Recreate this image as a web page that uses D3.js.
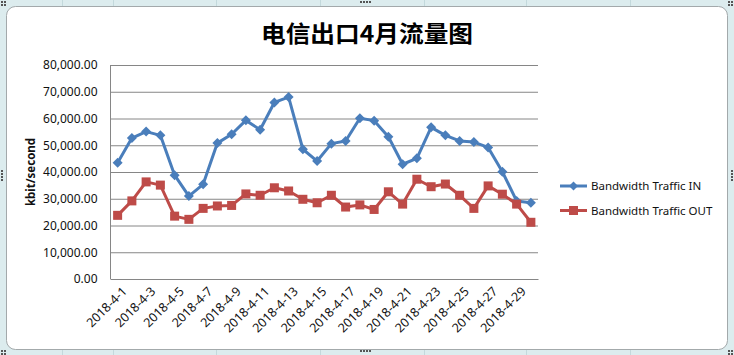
<!DOCTYPE html>
<html><head><meta charset="utf-8">
<script src="https://cdn.jsdelivr.net/npm/d3@7"></script>
<style>body{margin:0;background:#fff}svg{display:block}</style>
</head><body>
<svg id="c" width="734" height="355"></svg>
<script>
const title = "电信出口4月流量图";
const yTitle = "kbit/second";
const categories = Array.from({length:30},(_,i)=>"2018-4-"+(i+1));
const seriesNames = ["Bandwidth Traffic IN","Bandwidth Traffic OUT"];
const trafficIn = [43500,52700,55100,53700,38800,31000,35400,50800,54100,59300,55800,66000,68000,48500,44100,50600,51600,60100,59200,53200,42900,45100,56700,53700,51600,51200,49200,40100,29200,28500];
const trafficOut = [23800,29200,36300,35100,23500,22300,26400,27300,27500,31800,31300,34100,32900,29800,28500,31300,26900,27700,26000,32600,28000,37300,34500,35500,31300,26400,34800,31700,28000,21200];
const yTicks = [0,10000,20000,30000,40000,50000,60000,70000,80000];
const colors = ["#4a7ebb","#be4b48"];

(function(){
const svg = d3.select("#c");
const W=734,H=355;
svg.append("rect").attr("width",W).attr("height",H).attr("fill","#dcecee");
[62,113,216,320,424,526,630].forEach(xx=>{
  svg.append("line").attr("x1",xx+0.5).attr("x2",xx+0.5).attr("y1",0).attr("y2",6).attr("stroke","#c3d9dc");
  svg.append("line").attr("x1",xx+0.5).attr("x2",xx+0.5).attr("y1",349).attr("y2",355).attr("stroke","#c3d9dc");
});
svg.append("rect").attr("x",6.5).attr("y",6.5).attr("width",721).attr("height",343).attr("rx",9)
  .attr("fill","#fff").attr("stroke","#a3a9ab");
const dots=(px,py,n,vert)=>{for(let i=0;i<n;i++){svg.append("rect").attr("x",vert?px:px+i*3).attr("y",vert?py+i*3:py).attr("width",2).attr("height",2).attr("fill","#555");}};
dots(360,1,4,false);dots(360,350,4,false);dots(1,170,4,true);dots(731,170,4,true);
[[1,1],[728,1],[1,350],[728,350]].forEach(([a,b])=>{dots(a,b,2,false);dots(a,b+3,2,false);});

const pLeft=110.5,pRight=538,pTop=65,pBottom=279;
const x = d3.scaleBand().domain(categories).range([pLeft,pRight]);
const y = d3.scaleLinear().domain([0,80000]).range([pBottom,pTop]);
const font="'Noto Sans', 'Open Sans', sans-serif";

svg.append("text").attr("x",367).attr("y",42).attr("text-anchor","middle")
  .attr("font-family","'Noto Sans CJK SC', sans-serif").attr("font-weight","bold").attr("font-size",23)
  .attr("textLength",212).attr("lengthAdjust","spacingAndGlyphs").text(title);

const yAxis = d3.axisLeft(y).tickValues(yTicks).tickSize(-(pRight-pLeft)).tickPadding(13)
  .tickFormat(d3.format(",.2f"));
const gy = svg.append("g").attr("transform",`translate(${pLeft},0)`).call(yAxis);
gy.select(".domain").remove();
gy.selectAll(".tick line").attr("stroke","#868686");
gy.selectAll(".tick text").attr("font-family",font).attr("font-size",12).attr("fill","#111");
svg.append("line").attr("x1",pLeft).attr("x2",pLeft).attr("y1",pTop).attr("y2",pBottom).attr("stroke","#868686");

const xAxis = d3.axisBottom(x).tickSize(0).tickValues(categories.filter((d,i)=>i%2===0));
const gx = svg.append("g").attr("transform",`translate(0,${pBottom})`).call(xAxis);
gx.select(".domain").attr("stroke","#868686");
gx.selectAll(".tick text").attr("font-family",font).attr("font-size",12.5).attr("fill","#111")
  .attr("text-anchor","end").attr("transform","translate(7,10) rotate(-45)").attr("dy","0.35em").attr("y",0);

svg.append("text").attr("transform","translate(35,172) rotate(-90)").attr("text-anchor","middle")
  .attr("font-family",font).attr("font-weight","bold").attr("font-size",11.5).attr("fill","#111").text(yTitle);

const cx = d=>x(d)+x.bandwidth()/2;
const line = d3.line().x((d,i)=>cx(categories[i])).y(d=>y(d));
[trafficIn,trafficOut].forEach((data,si)=>{
  svg.append("path").datum(data).attr("d",line).attr("fill","none").attr("stroke",colors[si])
    .attr("stroke-width",3).attr("stroke-linejoin","round");
  const g = svg.append("g");
  data.forEach((v,i)=>{
    const px=cx(categories[i]),py=y(v);
    if(si===0){
      g.append("path").attr("d",`M${px},${py-5}L${px+5},${py}L${px},${py+5}L${px-5},${py}Z`).attr("fill",colors[0]);
    } else {
      g.append("rect").attr("x",px-4.5).attr("y",py-4.5).attr("width",9).attr("height",9).attr("fill",colors[1]);
    }
  });
});

seriesNames.forEach((n,i)=>{
  const ly=186+i*24.5;
  svg.append("line").attr("x1",560).attr("x2",587).attr("y1",ly).attr("y2",ly).attr("stroke",colors[i]).attr("stroke-width",3);
  if(i===0) svg.append("path").attr("d",`M573.5,${ly-4.5}L578,${ly}L573.5,${ly+4.5}L569,${ly}Z`).attr("fill",colors[0]);
  else svg.append("rect").attr("x",569).attr("y",ly-4.5).attr("width",9).attr("height",9).attr("fill",colors[1]);
  svg.append("text").attr("x",591).attr("y",ly).attr("dy","0.35em").attr("font-family",font).attr("font-size",11.5)
    .attr("fill","#111").text(n);
});
})();
</script>
</body></html>
